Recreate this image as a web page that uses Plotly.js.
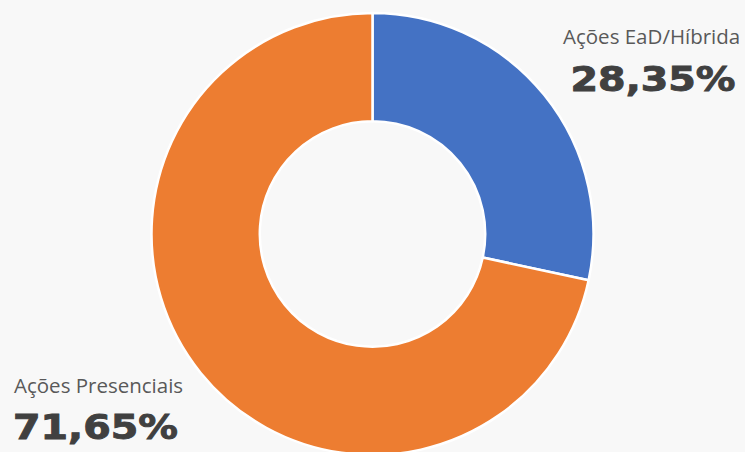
<!DOCTYPE html>
<html>
<head>
<meta charset="utf-8">
<script src="https://cdn.plot.ly/plotly-3.0.1.min.js"></script>
<style>
html, body { margin: 0; padding: 0; overflow: hidden; background: #f8f8f8; }
#chart { width: 745px; height: 458px; }
g.annotation[data-index="1"] text.annotation-text {
  transform-box: fill-box; transform-origin: right center; transform: scaleX(1.2);
  stroke: #404040; stroke-width: 0.9px;
}
g.annotation[data-index="3"] text.annotation-text {
  transform-box: fill-box; transform-origin: left center; transform: scaleX(1.2);
  stroke: #404040; stroke-width: 0.9px;
}
</style>
</head>
<body>
<div id="chart"></div>
<script>
const categories = ["Ações EaD/Híbrida", "Ações Presenciais"];
const values = [28.35, 71.65];
const sliceColors = ["#4472C4", "#ED7D31"];

function fmt(v) { return v.toFixed(2).replace(".", ",") + "%"; }

const W = 745, H = 458, T = 13, B = 3;
const plotH = H - T - B;
function px(x) { return x / W; }
function py(y) { return (H - B - y) / plotH; }

const labelFont = { family: "Open Sans, sans-serif", size: 20.5, color: "#595959" };
const valueFont = { family: "DejaVu Sans, sans-serif", size: 33, color: "#404040", weight: "bold" };

const annotations = [
  { text: categories[0], x: px(742), y: py(36), xanchor: "right", yanchor: "middle", font: labelFont },
  { text: fmt(values[0]), x: px(737), y: py(79), xanchor: "right", yanchor: "middle", font: valueFont },
  { text: categories[1], x: px(12), y: py(384.5), xanchor: "left", yanchor: "middle", font: labelFont },
  { text: fmt(values[1]), x: px(11), y: py(427), xanchor: "left", yanchor: "middle", font: valueFont }
].map(a => Object.assign({ xref: "paper", yref: "paper", showarrow: false }, a));

const data = [{
  type: "pie",
  labels: categories,
  values: values,
  hole: 0.51,
  sort: false,
  direction: "clockwise",
  rotation: 0,
  textinfo: "none",
  hoverinfo: "label+percent",
  marker: { colors: sliceColors, line: { color: "#ffffff", width: 2.5 } },
  domain: { x: [0, 1], y: [0, 1] }
}];

const layout = {
  width: W, height: H,
  margin: { l: 0, r: 0, t: T, b: B, pad: 0 },
  paper_bgcolor: "#f8f8f8",
  plot_bgcolor: "#f8f8f8",
  showlegend: false,
  annotations: annotations
};

Plotly.newPlot("chart", data, layout, { displayModeBar: false, staticPlot: true });
</script>
</body>
</html>
